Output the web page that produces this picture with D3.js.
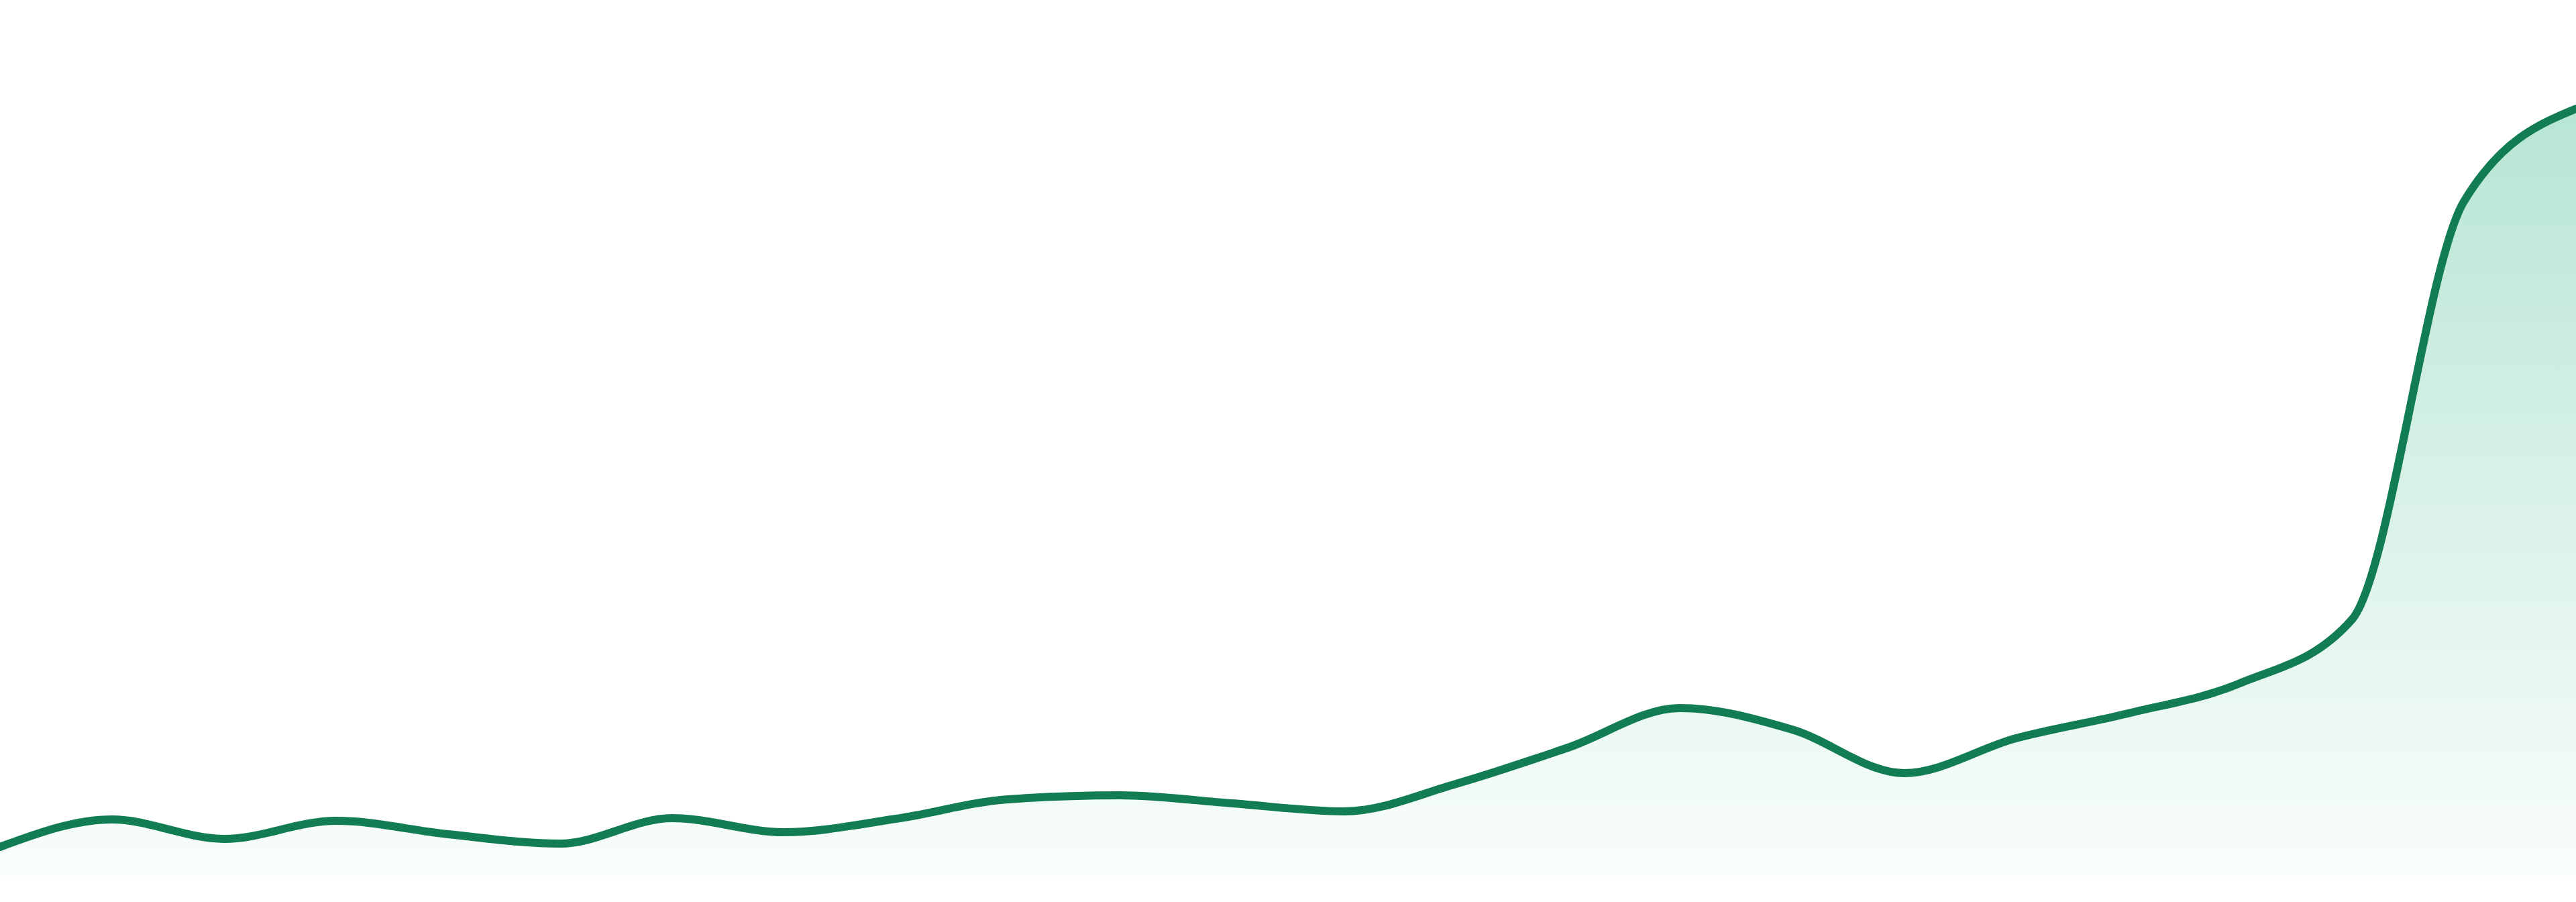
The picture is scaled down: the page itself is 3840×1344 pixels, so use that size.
<!DOCTYPE html>
<html>
<head>
<meta charset="utf-8">
<script src="https://cdn.jsdelivr.net/npm/d3@7"></script>
<style>
  html, body { margin: 0; padding: 0; background: #ffffff; }
  svg { display: block; }
</style>
</head>
<body>
<div id="chart"></div>
<script>
// Data (arbitrary units)
const periods = d3.range(24); // 24 evenly spaced periods
const values = [4.3, 8.4, 5.5, 8.2, 6.2, 4.8, 8.6, 6.5, 8.5, 11.4, 12.0, 10.8,
                9.6, 13.7, 19.1, 25.0, 21.8, 15.3, 20.5, 24.2, 28.7, 38.2, 100.5, 114.3];

const W = 3840, H = 1344;
const baseY = 1305, topY = 155;

const svg = d3.select("#chart").append("svg")
  .attr("width", W).attr("height", H);

const x = d3.scaleLinear().domain([0, periods.length - 1]).range([0, W]);
const y = d3.scaleLinear().domain([0, 115]).range([baseY, topY]);

const data = periods.map((p, i) => ({ p, v: values[i] }));

const defs = svg.append("defs");
const grad = defs.append("linearGradient")
  .attr("id", "fillGrad")
  .attr("gradientUnits", "userSpaceOnUse")
  .attr("x1", 0).attr("x2", 0)
  .attr("y1", y(115)).attr("y2", baseY);
grad.append("stop").attr("offset", "0%").attr("stop-color", "#16ac73").attr("stop-opacity", 0.31);
grad.append("stop").attr("offset", "100%").attr("stop-color", "#16ac73").attr("stop-opacity", 0.025);

const area = d3.area()
  .x(d => x(d.p))
  .y0(baseY)
  .y1(d => y(d.v))
  .curve(d3.curveMonotoneX);

const line = d3.line()
  .x(d => x(d.p))
  .y(d => y(d.v))
  .curve(d3.curveMonotoneX);

svg.append("path")
  .datum(data)
  .attr("d", area)
  .attr("fill", "url(#fillGrad)");

svg.append("path")
  .datum(data)
  .attr("d", line)
  .attr("fill", "none")
  .attr("stroke", "#127c53")
  .attr("stroke-width", 12)
  .attr("stroke-linejoin", "round")
  .attr("stroke-linecap", "round");
</script>
</body>
</html>
